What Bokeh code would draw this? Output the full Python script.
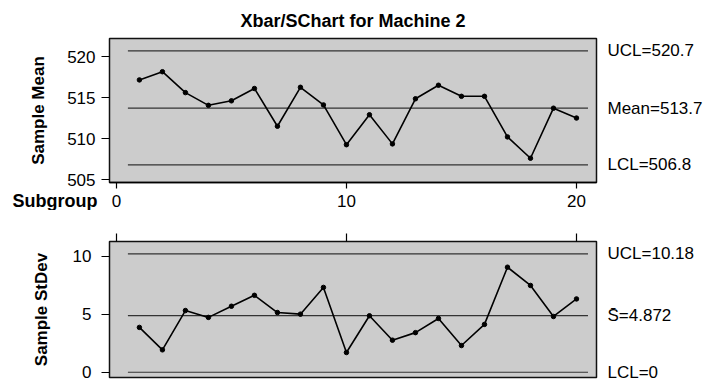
from bokeh.plotting import figure
from bokeh.layouts import column
from bokeh.models import Range1d, LinearAxis, FixedTicker
from bokeh.core.properties import value
from bokeh.embed import file_html
from bokeh.resources import INLINE

subgroups = list(range(1, 21))
sample_means = [517.15, 518.15, 515.6, 514.05, 514.6, 516.1, 511.5, 516.25, 514.1, 509.25,
                512.9, 509.35, 514.85, 516.5, 515.15, 515.15, 510.2, 507.6, 513.7, 512.5]
sample_sds = [3.86, 1.93, 5.31, 4.72, 5.68, 6.62, 5.14, 5.0, 7.3, 1.7,
              4.86, 2.76, 3.41, 4.63, 2.3, 4.12, 9.04, 7.47, 4.8, 6.31]
xbar_limit_values = [520.7, 513.7, 506.8]
xbar_limit_labels = ["UCL=520.7", "Mean=513.7", "LCL=506.8"]
s_limit_values = [10.18, 4.872, 0.0]
s_limit_labels = ["UCL=10.18", "S\u0304=4.872", "LCL=0"]
x_ticks = [0, 10, 20]
mean_ticks = [505, 510, 515, 520]
sd_ticks = [0, 5, 10]

FONT = "Liberation Sans"
W = 713
ML, MR = 109, 117
X_RANGE = (-0.3, 20.87)


def base_fig(height, y_range, top, bottom):
    p = figure(width=W, height=height, output_backend="svg", toolbar_location=None,
               x_range=Range1d(*X_RANGE), y_range=Range1d(*y_range),
               min_border_left=ML, min_border_right=MR, min_border_top=top,
               min_border_bottom=bottom, x_axis_location=None, y_axis_location=None)
    p.background_fill_color = "#cccccc"
    p.border_fill_color = "white"
    p.outline_line_color = "#111111"
    p.outline_line_width = 1.5
    p.xgrid.visible = False
    p.ygrid.visible = False
    return p


def add_yaxis(p, ticks, label, label_standoff, axis_standoff):
    ax = LinearAxis(ticker=FixedTicker(ticks=ticks), axis_label=label)
    ax.major_label_text_font = FONT
    ax.major_label_text_font_size = "17px"
    ax.major_label_text_color = "black"
    ax.major_label_standoff = label_standoff
    ax.axis_label_text_font = FONT
    ax.axis_label_text_font_size = "17px"
    ax.axis_label_text_font_style = "bold"
    ax.axis_label_text_color = "black"
    ax.axis_label_standoff = axis_standoff
    ax.major_tick_out = 8
    ax.major_tick_in = 0
    ax.minor_tick_out = 0
    ax.minor_tick_in = 0
    ax.axis_line_color = None
    ax.major_tick_line_color = "black"
    ax.major_tick_line_width = 1.2
    p.add_layout(ax, "left")


def add_limit_axis(p, vals, labels):
    ax = LinearAxis(ticker=FixedTicker(ticks=vals))
    ax.major_label_overrides = {v: t for v, t in zip(vals, labels)}
    ax.major_label_text_font = FONT
    ax.major_label_text_font_size = "17px"
    ax.major_label_text_color = "black"
    ax.major_label_standoff = 11
    ax.major_tick_out = 0
    ax.major_tick_in = 0
    ax.minor_tick_out = 0
    ax.minor_tick_in = 0
    ax.axis_line_color = None
    p.add_layout(ax, "right")


def add_series(p, ys, vals):
    xs0 = [min(subgroups) - 0.5] * len(vals)
    xs1 = [max(subgroups) + 0.5] * len(vals)
    p.segment(x0=xs0, y0=vals, x1=xs1, y1=vals, line_color="#333333", line_width=1.2)
    p.line(subgroups, ys, line_color="black", line_width=1.6)
    p.scatter(subgroups, ys, size=4.5, fill_color="black", line_color="black")


def tick_only_axis(p, where, length):
    ax = LinearAxis(ticker=FixedTicker(ticks=x_ticks))
    ax.major_label_text_font_size = "0px"
    ax.major_label_text_color = None
    ax.major_label_standoff = 0
    ax.major_tick_out = length
    ax.major_tick_in = 0
    ax.minor_tick_out = 0
    ax.minor_tick_in = 0
    ax.axis_line_color = "black" if where == "below" else None
    ax.axis_line_width = 1.5
    ax.major_tick_line_color = "black"
    ax.major_tick_line_width = 1.2
    p.add_layout(ax, where)


# ---- Xbar chart ----
p1 = base_fig(190, (504.64, 522.2), 36, 8)
p1.title.text = "Xbar/SChart for Machine 2"
p1.title.align = "center"
p1.title.offset = 5
p1.title.standoff = 16
p1.title.text_font = FONT
p1.title.text_font_size = "18px"
p1.title.text_font_style = "bold"
p1.title.text_color = "black"
add_yaxis(p1, mean_ticks, "Sample Mean", 6, 16)
tick_only_axis(p1, "below", 6)
add_limit_axis(p1, xbar_limit_values, xbar_limit_labels)
add_series(p1, sample_means, xbar_limit_values)

# ---- strip with subgroup tick labels ----
strip = figure(width=W, height=20, output_backend="svg", toolbar_location=None,
               x_range=Range1d(*X_RANGE), y_range=Range1d(0, 1),
               min_border_left=ML, min_border_right=MR, min_border_top=0, min_border_bottom=0,
               x_axis_location=None, y_axis_location=None)
strip.outline_line_color = None
strip.background_fill_color = "white"
strip.border_fill_color = "white"
strip.xgrid.visible = False
strip.ygrid.visible = False
strip.text(x=x_ticks, y=[0.5] * len(x_ticks), text=[str(t) for t in x_ticks],
           text_font=value(FONT), text_font_size="17px", text_color="black",
           text_align="center", text_baseline="middle")
sub_ax = LinearAxis(ticker=FixedTicker(ticks=[]), axis_label="Subgroup")
sub_ax.axis_label_orientation = "horizontal"
sub_ax.axis_label_text_font = FONT
sub_ax.axis_label_text_font_size = "18px"
sub_ax.axis_label_text_font_style = "bold"
sub_ax.axis_label_text_color = "black"
sub_ax.axis_label_standoff = 12
sub_ax.major_label_text_font_size = "0px"
sub_ax.major_label_standoff = 0
sub_ax.major_tick_out = 0
sub_ax.major_tick_in = 0
sub_ax.minor_tick_out = 0
sub_ax.minor_tick_in = 0
sub_ax.axis_line_color = None
strip.add_layout(sub_ax, "left")

# ---- S chart ----
p2 = base_fig(172, (-0.45, 11.25), 31, 5)
add_yaxis(p2, sd_ticks, "Sample StDev", 10, 19)
tick_only_axis(p2, "above", 8)
add_limit_axis(p2, s_limit_values, s_limit_labels)
add_series(p2, sample_sds, s_limit_values)

layout = column(p1, strip, p2, spacing=0)
open("out.html", "w").write(file_html(layout, INLINE))
